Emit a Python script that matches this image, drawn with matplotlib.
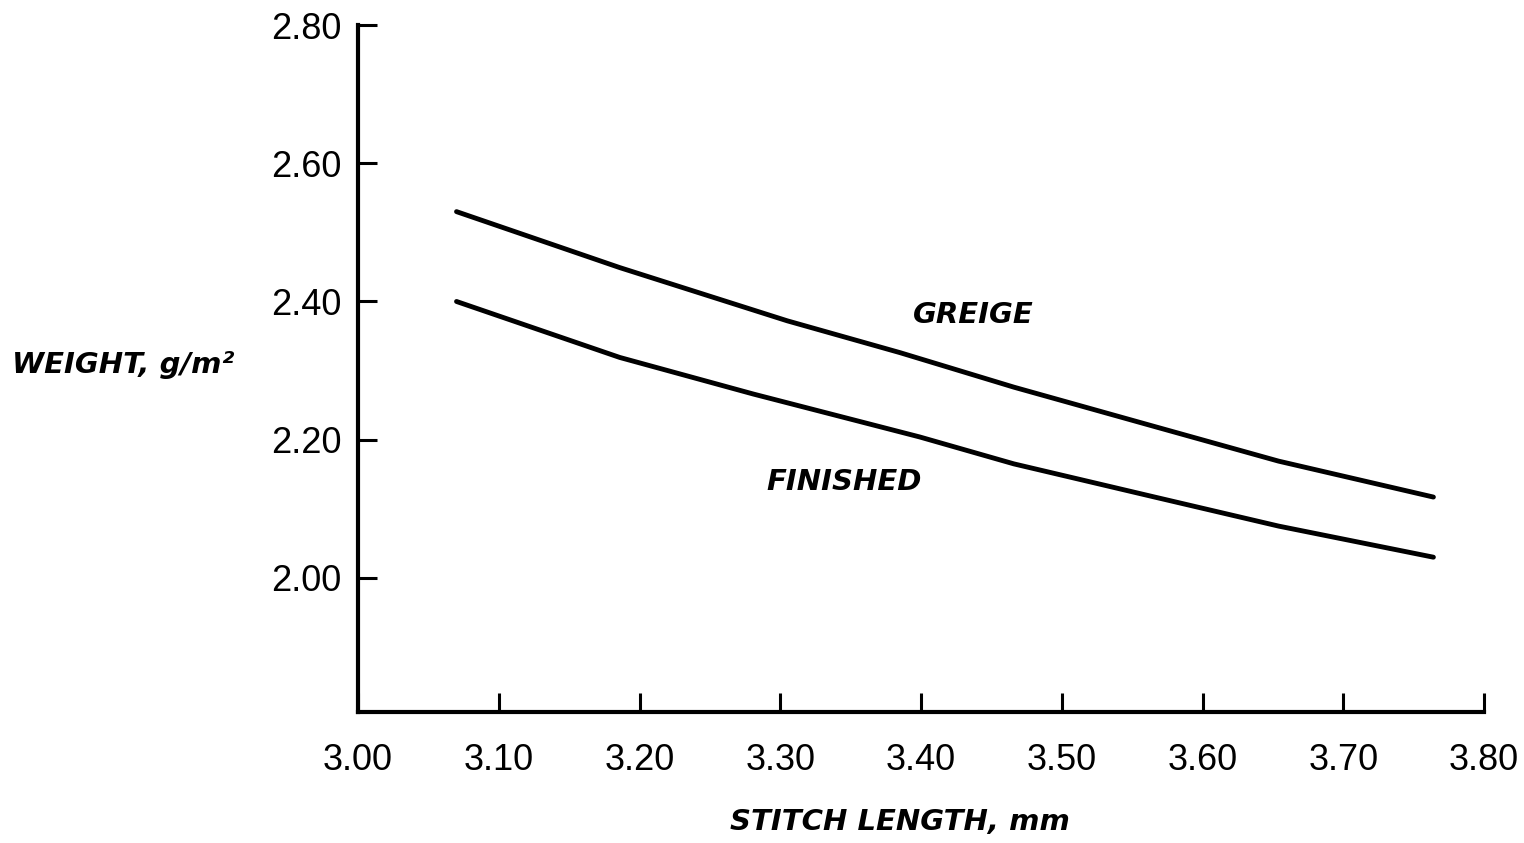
import matplotlib.pyplot as plt

# stitch length (mm) vs fabric weight
greige_x = [3.070, 3.186, 3.305, 3.385, 3.466, 3.566, 3.654, 3.764]
greige_y = [2.530, 2.449, 2.372, 2.326, 2.276, 2.219, 2.169, 2.117]

finished_x = [3.070, 3.186, 3.281, 3.399, 3.466, 3.566, 3.654, 3.764]
finished_y = [2.400, 2.319, 2.266, 2.204, 2.165, 2.117, 2.075, 2.030]

x_ticks = [3.00, 3.10, 3.20, 3.30, 3.40, 3.50, 3.60, 3.70, 3.80]
y_ticks = [2.00, 2.20, 2.40, 2.60, 2.80]

fig = plt.figure(figsize=(15.24, 8.43), dpi=100)
ax = fig.add_axes([0.2349, 0.1554, 0.7389, 0.8149])

ax.plot(greige_x, greige_y, color='black', lw=3.5, solid_capstyle='round')
ax.plot(finished_x, finished_y, color='black', lw=3.5, solid_capstyle='round')

ax.set_xlim(3.00, 3.80)
ax.set_ylim(1.806, 2.80)

ax.spines['top'].set_visible(False)
ax.spines['right'].set_visible(False)
ax.spines['left'].set_linewidth(3)
ax.spines['bottom'].set_linewidth(3)

ax.set_xticks(x_ticks)
ax.set_xticklabels(['%.2f' % v for v in x_ticks])
ax.set_yticks(y_ticks)
ax.set_yticklabels(['%.2f' % v for v in y_ticks])
ax.tick_params(direction='in', length=14, width=2.2, color='black')
ax.tick_params(axis='x', pad=22)
ax.tick_params(axis='y', pad=12)
for lab in ax.get_xticklabels() + ax.get_yticklabels():
    lab.set_fontfamily('Liberation Sans')
    lab.set_fontsize(26)

lab_font = dict(family='DejaVu Sans', weight='bold', style='italic', fontsize=21)
ax.text(3.437, 2.380, 'GREIGE', ha='center', va='center', **lab_font)
ax.text(3.345, 2.139, 'FINISHED', ha='center', va='center', **lab_font)

fig.text(12 / 1524, 0.567, 'WEIGHT, g/m²', ha='left', va='center', **lab_font)
fig.text(900 / 1524, 0.025, 'STITCH LENGTH, mm', ha='center', va='center', **lab_font)

plt.savefig('out.png', dpi=100)
